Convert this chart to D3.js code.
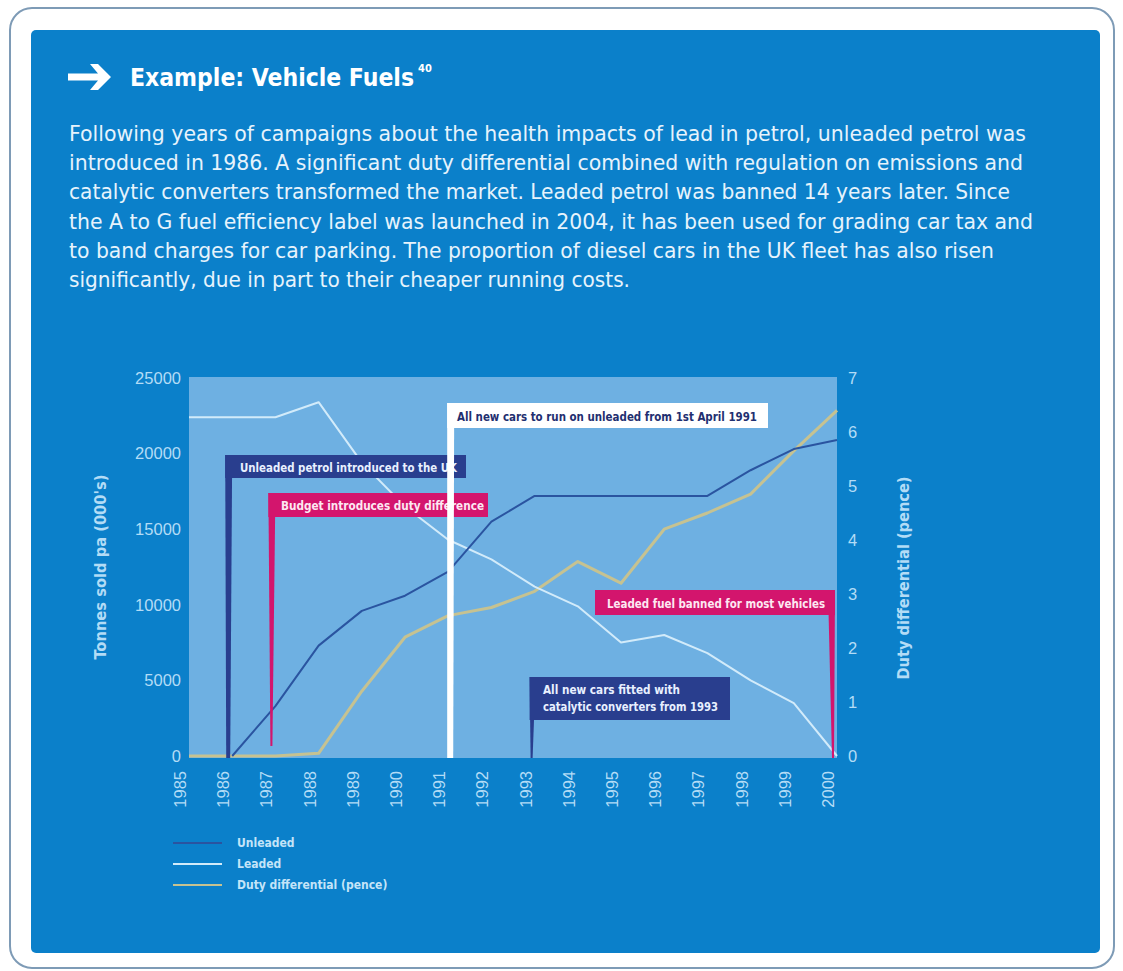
<!DOCTYPE html>
<html><head><meta charset="utf-8">
<script src="https://cdn.jsdelivr.net/npm/d3@7"></script>
<style>body{margin:0;background:#fff}svg{display:block}</style>
</head><body><svg id="c" width="1123" height="971"></svg>
<script>
// ---------- data ----------
const years = [1985,1986,1987,1988,1989,1990,1991,1992,1993,1994,1995,1996,1997,1998,1999,2000];
const unleaded = [null, 0, 3300, 7300, 9600, 10600, 12200, 15500, 17200, 17200, 17200, 17200, 17200, 18900, 20300, 20900];
const leaded   = [22400, 22400, 22400, 23400, 19400, 16500, 14300, 13000, 11200, 9900, 7500, 8000, 6800, 5000, 3500, 0];
const duty     = [0, 0, 0, 0.05, 1.2, 2.2, 2.6, 2.75, 3.05, 3.6, 3.2, 4.2, 4.5, 4.85, 5.65, 6.4];
const leftTicks  = [0, 5000, 10000, 15000, 20000, 25000];
const rightTicks = [0, 1, 2, 3, 4, 5, 6, 7];
const seriesNames = ["Unleaded", "Leaded", "Duty differential (pence)"];
const titleText = "Example: Vehicle Fuels";
const titleNote = "40";
const leftTitle = "Tonnes sold pa (000's)";
const rightTitle = "Duty differential (pence)";
const paragraph = [
  "Following years of campaigns about the health impacts of lead in petrol, unleaded petrol was",
  "introduced in 1986. A significant duty differential combined with regulation on emissions and",
  "catalytic converters transformed the market. Leaded petrol was banned 14 years later. Since",
  "the A to G fuel efficiency label was launched in 2004, it has been used for grading car tax and",
  "to band charges for car parking. The proportion of diesel cars in the UK fleet has also risen",
  "significantly, due in part to their cheaper running costs."
];
const annotationTexts = [
  ["Unleaded petrol introduced to the UK"],
  ["Budget introduces duty difference"],
  ["All new cars to run on unleaded from 1st April 1991"],
  ["Leaded fuel banned for most vehicles"],
  ["All new cars fitted with", "catalytic converters from 1993"]
];
const annotationYears = [1986, 1987, 1991, 2000, 1993];

// ---------- styles ----------
const C = {
  panel: "#0b80ca", plot: "#6eb0e2", axisText: "#b3dcf6",
  unleaded: "#2a54a0", leaded: "#d2ebfa", duty: "#c6c291",
  navy: "#293e8e", magenta: "#d3156d", white: "#ffffff", darkText: "#1f2f70"
};
const FONT = "'Liberation Sans', Arial, sans-serif";
const NARROW = "'Liberation Sans Narrow', 'DejaVu Sans Condensed', 'Liberation Sans', sans-serif";

const svg = d3.select("#c");

// frame
svg.append("rect").attr("x", 10).attr("y", 8).attr("width", 1104).attr("height", 960)
  .attr("rx", 22).attr("fill", "#fff").attr("stroke", "#7e9bb6").attr("stroke-width", 2);
svg.append("rect").attr("x", 31).attr("y", 30).attr("width", 1069).attr("height", 923)
  .attr("rx", 5).attr("fill", C.panel);

// title arrow
svg.append("path")
  .attr("d", "M68,73.5 H98 L90,64 H98 L111,77 L98,90 H90 L98,80.5 H68 Z")
  .attr("fill", "#fff");
const title = svg.append("text").attr("x", 130).attr("y", 86)
  .attr("font-family", NARROW).attr("font-weight", "bold").attr("font-size", 25)
  .attr("fill", "#fff");
title.append("tspan").text(titleText).attr("textLength", 284).attr("lengthAdjust", "spacingAndGlyphs");
svg.append("text").attr("x", 418).attr("y", 72).text(titleNote)
  .attr("font-family", NARROW).attr("font-weight", "bold").attr("font-size", 11).attr("fill", "#fff");

// paragraph
const paraEnds = [1026, 1023, 1010, 1033, 994, 630];
svg.append("g").selectAll("text").data(paragraph).join("text")
  .attr("x", 69).attr("y", (d, i) => 141 + i * 29.2)
  .attr("font-family", NARROW).attr("font-size", 21).attr("fill", "#e6f3fc")
  .attr("textLength", (d, i) => paraEnds[i] - 69).attr("lengthAdjust", "spacingAndGlyphs")
  .text(d => d);

// ---------- scales ----------
const x = d3.scaleLinear().domain([1985, 2000]).range([189, 837]);
const yL = d3.scaleLinear().domain([0, 25000]).range([756, 378]);
const yR = d3.scaleLinear().domain([0, 7]).range([756, 378]);

// plot background
svg.append("rect").attr("x", 189).attr("y", 377).attr("width", 648).attr("height", 381)
  .attr("fill", C.plot);

// lines
const rows = years.map((yr, i) => ({ yr, u: unleaded[i], l: leaded[i], d: duty[i] }));
const lineU = d3.line().defined(d => d.u != null).x(d => x(d.yr)).y(d => yL(d.u));
const lineL = d3.line().x(d => x(d.yr)).y(d => yL(d.l));
const lineD = d3.line().x(d => x(d.yr)).y(d => yR(d.d));
svg.append("path").datum(rows).attr("d", lineD).attr("fill", "none")
  .attr("stroke", C.duty).attr("stroke-width", 3).attr("stroke-linejoin", "round");
svg.append("path").datum(rows).attr("d", lineL).attr("fill", "none")
  .attr("stroke", C.leaded).attr("stroke-width", 2).attr("stroke-linejoin", "round");
svg.append("path").datum(rows).attr("d", lineU).attr("fill", "none")
  .attr("stroke", C.unleaded).attr("stroke-width", 2).attr("stroke-linejoin", "round");

// ---------- annotations ----------
function callout(cfg) {
  const g = svg.append("g");
  // bar (tapered)
  const b = cfg.bar;
  g.append("path")
    .attr("d", `M${b.x0},${b.top} H${b.x1} L${b.bx1},${b.bottom} H${b.bx0} Z`)
    .attr("fill", cfg.fill);
  g.append("rect").attr("x", cfg.box[0]).attr("y", cfg.box[1])
    .attr("width", cfg.box[2] - cfg.box[0]).attr("height", cfg.box[3] - cfg.box[1])
    .attr("fill", cfg.fill);
  cfg.lines.forEach((t, i) => {
    g.append("text").attr("x", cfg.tx).attr("y", cfg.ty + i * 17)
      .attr("font-family", NARROW).attr("font-weight", "bold").attr("font-size", 12.5)
      .attr("fill", cfg.color)
      .attr("textLength", cfg.tw[i]).attr("lengthAdjust", "spacingAndGlyphs")
      .text(t);
  });
}
// Unleaded introduced (navy)
{
  const xa = x(annotationYears[0]);
  callout({ fill: C.navy, color: "#e8f0ff", lines: annotationTexts[0],
    bar: { x0: xa - 7, x1: xa, top: 455, bottom: 758, bx0: xa - 6, bx1: xa - 2 },
    box: [xa - 7, 455, 466, 478], tx: 240, ty: 471.5, tw: [217] });
}
// Budget (magenta)
{
  const xa = x(annotationYears[1]);
  callout({ fill: C.magenta, color: "#fde8f2", lines: annotationTexts[1],
    bar: { x0: xa - 7, x1: xa, top: 493, bottom: 746, bx0: xa - 5, bx1: xa - 3 },
    box: [xa - 7, 493, 488, 517], tx: 281, ty: 509.5, tw: [203] });
}
// 1st April 1991 (white)
{
  const xa = x(annotationYears[2]);
  callout({ fill: C.white, color: C.darkText, lines: annotationTexts[2],
    bar: { x0: xa - 1, x1: xa + 6, top: 403, bottom: 758, bx0: xa - 1, bx1: xa + 5 },
    box: [xa - 1, 403, 768, 428], tx: 457, ty: 420.5, tw: [300] });
}
// Leaded fuel banned (magenta, right)
{
  const xa = x(annotationYears[3]);
  callout({ fill: C.magenta, color: "#fde8f2", lines: annotationTexts[3],
    bar: { x0: xa - 9, x1: xa - 2, top: 590, bottom: 758, bx0: xa - 5, bx1: xa - 3 },
    box: [595, 590, xa - 2, 615], tx: 607, ty: 607.5, tw: [218] });
}
// catalytic converters (navy, bottom)
{
  const xa = x(annotationYears[4]);
  callout({ fill: C.navy, color: "#e8f0ff", lines: annotationTexts[4],
    bar: { x0: xa - 5, x1: xa + 1, top: 677, bottom: 758, bx0: xa - 4, bx1: xa - 2 },
    box: [xa - 5, 677, 730, 720], tx: 543, ty: 694, tw: [137, 175] });
}

// ---------- axes ----------
const axL = svg.append("g").attr("transform", "translate(189,0)")
  .call(d3.axisLeft(yL).tickValues(leftTicks).tickSize(0).tickPadding(8).tickFormat(d3.format("d")));
const axR = svg.append("g").attr("transform", "translate(837,0)")
  .call(d3.axisRight(yR).tickValues(rightTicks).tickSize(0).tickPadding(11).tickFormat(d3.format("d")));
const axB = svg.append("g").attr("transform", "translate(0,758)")
  .call(d3.axisBottom(x).tickValues(years).tickSize(0).tickFormat(d3.format("d")));
[axL, axR, axB].forEach(a => {
  a.select(".domain").remove();
  a.selectAll("text").attr("fill", C.axisText).attr("font-family", FONT).attr("font-size", 16.5);
});
axB.selectAll("text")
  .attr("transform", "rotate(-90)").attr("text-anchor", "end")
  .attr("x", -13).attr("y", -3.5).attr("dy", 0);

// axis titles
svg.append("text").attr("transform", "translate(106,567) rotate(-90)")
  .attr("text-anchor", "middle").attr("font-family", NARROW).attr("font-weight", "bold")
  .attr("font-size", 16).attr("fill", C.axisText)
  .attr("textLength", 185).attr("lengthAdjust", "spacingAndGlyphs").text(leftTitle);
svg.append("text").attr("transform", "translate(909,578) rotate(-90)")
  .attr("text-anchor", "middle").attr("font-family", NARROW).attr("font-weight", "bold")
  .attr("font-size", 16).attr("fill", C.axisText)
  .attr("textLength", 203).attr("lengthAdjust", "spacingAndGlyphs").text(rightTitle);

// ---------- legend ----------
const legColors = [C.unleaded, C.leaded, C.duty];
const legY = [843, 864, 885];
const leg = svg.append("g").selectAll("g").data(seriesNames).join("g")
  .attr("transform", (d, i) => `translate(0,${legY[i]})`);
leg.append("line").attr("x1", 173).attr("x2", 222).attr("y1", 0).attr("y2", 0)
  .attr("stroke", (d, i) => legColors[i]).attr("stroke-width", 2);
leg.append("text").attr("x", 237).attr("y", 4).attr("font-family", NARROW)
  .attr("font-weight", "bold").attr("font-size", 12).attr("fill", "#c4e4f8").text(d => d);
</script></body></html>
